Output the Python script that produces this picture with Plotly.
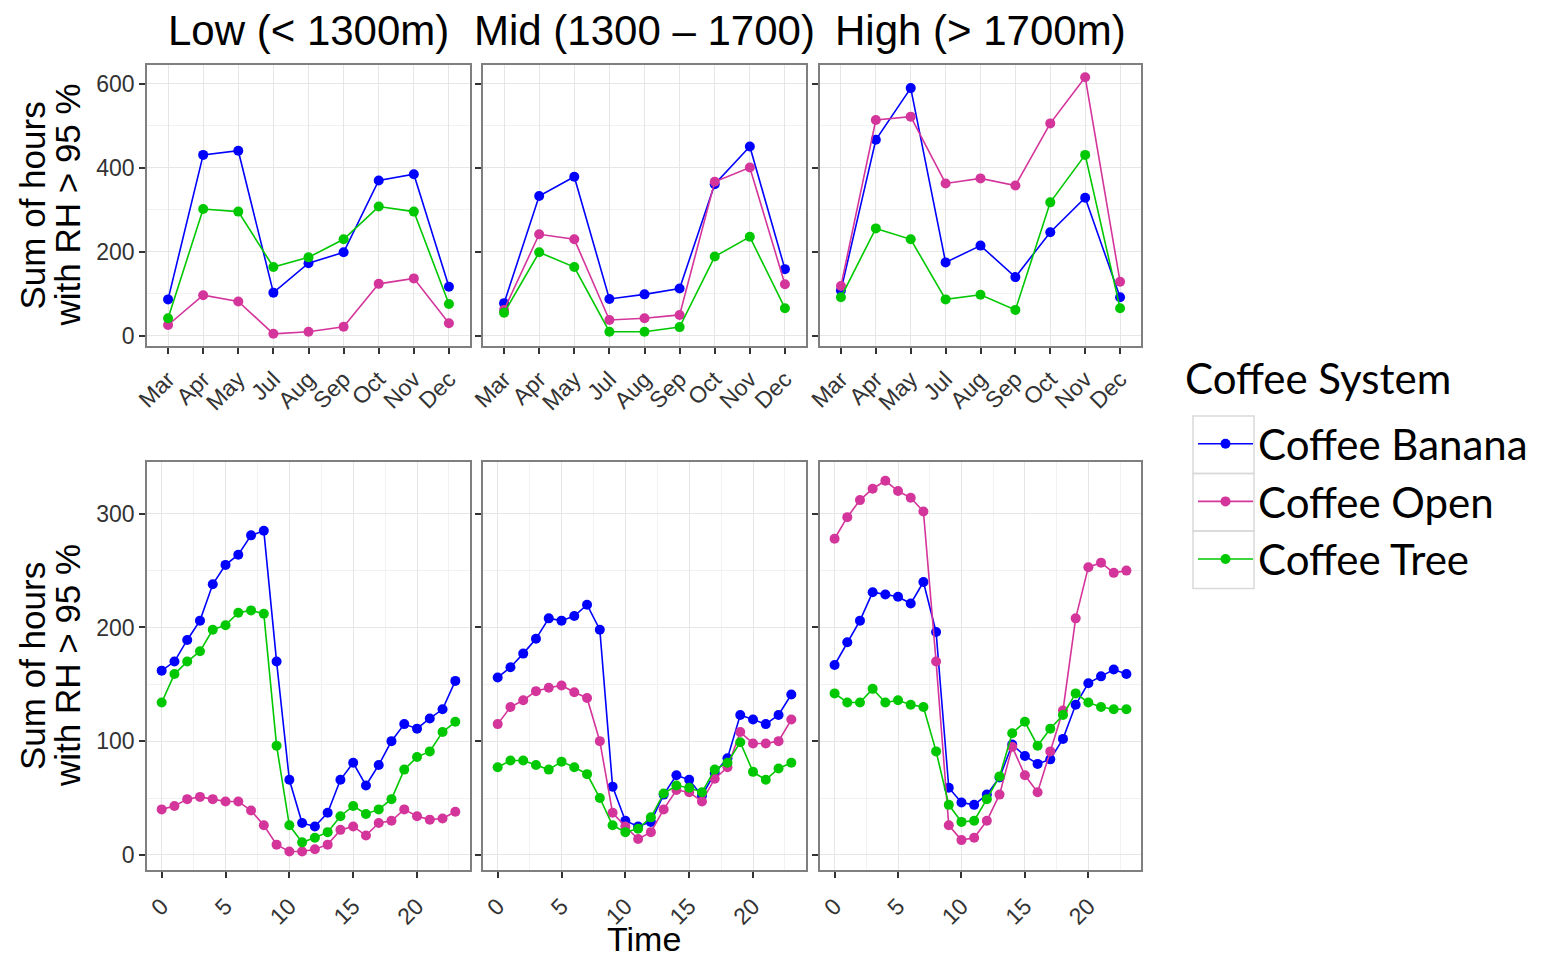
import plotly.graph_objects as go

# ---------------- data ----------------
months = ["Mar", "Apr", "May", "Jul", "Aug", "Sep", "Oct", "Nov", "Dec"]
hours = list(range(24))
elevations = ["Low (< 1300m)", "Mid (1300 – 1700)", "High (> 1700m)"]
systems = ["Coffee Banana", "Coffee Open", "Coffee Tree"]
colors = ["#0000FF", "#D4359B", "#00C800"]

monthly_low_banana = [87, 431, 441, 103, 173, 199, 370, 385, 117]
monthly_low_open = [26, 97, 82, 5, 10, 22, 124, 137, 30]
monthly_low_tree = [42, 302, 296, 164, 187, 230, 308, 296, 76]
monthly_mid_banana = [78, 333, 379, 88, 99, 113, 361, 451, 159]
monthly_mid_open = [62, 242, 230, 38, 42, 50, 367, 401, 123]
monthly_mid_tree = [55, 199, 164, 10, 10, 21, 189, 236, 66]
monthly_high_banana = [108, 467, 590, 175, 215, 140, 247, 329, 92]
monthly_high_open = [119, 514, 522, 363, 375, 358, 506, 616, 129]
monthly_high_tree = [92, 256, 230, 87, 98, 62, 318, 431, 66]

hourly_low_banana = [162, 170, 189, 206, 238, 255, 264, 281, 285, 170, 66, 28, 25, 37, 66, 81, 61, 79, 100, 115, 111, 120, 128, 153]
hourly_low_open = [40, 43, 49, 51, 49, 47, 47, 39, 26, 9, 3, 3, 5, 9, 22, 25, 17, 28, 30, 40, 34, 31, 32, 38]
hourly_low_tree = [134, 159, 170, 179, 198, 202, 213, 215, 212, 96, 26, 11, 15, 20, 34, 43, 36, 40, 49, 75, 86, 91, 108, 117]
hourly_mid_banana = [156, 165, 177, 190, 208, 206, 210, 220, 198, 60, 30, 25, 29, 53, 70, 66, 52, 72, 85, 123, 119, 115, 123, 141]
hourly_mid_open = [115, 130, 136, 144, 147, 149, 143, 138, 100, 37, 25, 14, 20, 40, 57, 55, 47, 67, 77, 108, 98, 98, 100, 119]
hourly_mid_tree = [77, 83, 83, 79, 75, 82, 77, 71, 50, 26, 20, 23, 33, 54, 61, 59, 55, 75, 81, 99, 73, 66, 76, 81]
hourly_high_banana = [167, 187, 206, 231, 229, 227, 221, 240, 196, 59, 46, 44, 53, 68, 97, 87, 80, 84, 102, 132, 151, 157, 163, 159]
hourly_high_open = [278, 297, 312, 322, 329, 320, 314, 302, 170, 26, 13, 15, 30, 53, 95, 70, 55, 91, 127, 208, 253, 257, 248, 250]
hourly_high_tree = [142, 134, 134, 146, 134, 136, 132, 130, 91, 44, 29, 30, 49, 69, 107, 117, 96, 111, 123, 142, 134, 130, 128, 128]

monthly = [
    [monthly_low_banana, monthly_low_open, monthly_low_tree],
    [monthly_mid_banana, monthly_mid_open, monthly_mid_tree],
    [monthly_high_banana, monthly_high_open, monthly_high_tree],
]
hourly = [
    [hourly_low_banana, hourly_low_open, hourly_low_tree],
    [hourly_mid_banana, hourly_mid_open, hourly_mid_tree],
    [hourly_high_banana, hourly_high_open, hourly_high_tree],
]

# ---------------- layout helpers ----------------
# page body has an 8px default margin; size the figure so the page fits the window
W, H = 1530, 953
OX, OY = 8, 8


def fx(px):
    return (px - OX) / W


def fy(py):
    return 1 - (py - OY) / H


col_px = [(147, 470), (483, 806), (820, 1141)]
top_py = (65, 346)
bot_py = (462, 870)

fig = go.Figure()

TICKFONT = dict(family="Liberation Sans, Arial, sans-serif", size=23, color="#333333")
grid = "#E6E6E6"
minor_grid = "#F2F2F2"

for c in range(3):
    xa = "x%d" % (c + 1) if c > 0 else "x"
    ya = "y%d" % (c + 1) if c > 0 else "y"
    for s in range(3):
        fig.add_trace(go.Scatter(
            x=months, y=monthly[c][s], mode="lines+markers",
            line=dict(color=colors[s], width=1.6),
            marker=dict(color=colors[s], size=10),
            name=systems[s], legendgroup=systems[s], showlegend=(c == 0),
            xaxis=xa, yaxis=ya))
    xb = "x%d" % (c + 4)
    yb = "y%d" % (c + 4)
    for s in range(3):
        fig.add_trace(go.Scatter(
            x=hours, y=hourly[c][s], mode="lines+markers",
            line=dict(color=colors[s], width=1.6),
            marker=dict(color=colors[s], size=10),
            name=systems[s], legendgroup=systems[s], showlegend=False,
            xaxis=xb, yaxis=yb))

common_axis = dict(
    showline=True, linecolor="#7F7F7F", linewidth=1.5, mirror=True,
    ticks="outside", ticklen=6, tickwidth=1.5, tickcolor="#333333",
    gridcolor=grid, gridwidth=1.3, zeroline=False, tickfont=TICKFONT,
    automargin=False,
)

layout = {}
for c in range(3):
    x0, x1 = col_px[c]
    kx = "xaxis" if c == 0 else "xaxis%d" % (c + 1)
    ky = "yaxis" if c == 0 else "yaxis%d" % (c + 1)
    layout[kx] = dict(common_axis, domain=[fx(x0), fx(x1)], type="category",
                      range=[-0.6, 8.6], tickangle=-45, ticklabelstandoff=3,
                      anchor="y" if c == 0 else "y%d" % (c + 1),
                      categoryorder="array", categoryarray=months)
    layout[ky] = dict(common_axis, domain=[fy(top_py[1]), fy(top_py[0])],
                      range=[-24, 645], tickvals=[0, 200, 400, 600],
                      showticklabels=(c == 0),
                      anchor="x" if c == 0 else "x%d" % (c + 1),
                      minor=dict(tickvals=[100, 300, 500], showgrid=True,
                                 gridcolor=minor_grid, gridwidth=1, ticks=""))
    kx = "xaxis%d" % (c + 4)
    ky = "yaxis%d" % (c + 4)
    layout[kx] = dict(common_axis, domain=[fx(x0), fx(x1)],
                      range=[-1.15, 24.15], tickvals=[0, 5, 10, 15, 20], tickangle=-45,
                      ticklabelstandoff=6,
                      anchor="y%d" % (c + 4),
                      minor=dict(tickvals=[2.5, 7.5, 12.5, 17.5, 22.5], showgrid=True,
                                 gridcolor=minor_grid, gridwidth=1, ticks=""))
    layout[ky] = dict(common_axis, domain=[fy(bot_py[1]), fy(bot_py[0])],
                      range=[-13.3, 345.5], tickvals=[0, 100, 200, 300],
                      showticklabels=(c == 0),
                      anchor="x%d" % (c + 4),
                      minor=dict(tickvals=[50, 150, 250], showgrid=True,
                                 gridcolor=minor_grid, gridwidth=1, ticks=""))

fig.update_layout(**layout)

annotations = []
TITLEFONT = dict(family="Liberation Sans, Arial, sans-serif", size=42, color="black")
for c in range(3):
    x0, x1 = col_px[c]
    annotations.append(dict(text=elevations[c], x=fx((x0 + x1) / 2), y=fy(30),
                            xref="paper", yref="paper", showarrow=False,
                            xanchor="center", yanchor="middle", font=TITLEFONT))
AXFONT = dict(family="Liberation Sans, Arial, sans-serif", size=35, color="black")
for (p0, p1) in [top_py, bot_py]:
    annotations.append(dict(text="Sum of hours", x=fx(32), y=fy((p0 + p1) / 2),
                            xref="paper", yref="paper", showarrow=False, textangle=-90,
                            xanchor="center", yanchor="middle", font=AXFONT))
    annotations.append(dict(text="with RH > 95 %", x=fx(67), y=fy((p0 + p1) / 2),
                            xref="paper", yref="paper", showarrow=False, textangle=-90,
                            xanchor="center", yanchor="middle", font=AXFONT))
annotations.append(dict(text="Time", x=fx(644), y=fy(960), xref="paper", yref="paper",
                        showarrow=False, xanchor="center", yanchor="bottom",
                        font=dict(AXFONT, size=34)))
# legend title
annotations.append(dict(text="Coffee System", x=fx(1183), y=fy(378), xref="paper", yref="paper",
                        showarrow=False, xanchor="left", yanchor="middle",
                        font=dict(family="Lato, Open Sans, sans-serif", size=42, color="black")))

# legend key boxes
shapes = []
step = 57.5
for i in range(3):
    shapes.append(dict(type="rect", xref="paper", yref="paper",
                       x0=fx(1193), x1=fx(1254), y0=fy(416 + step * i), y1=fy(416 + step * (i + 1)),
                       line=dict(color="#D9D9D9", width=1.5), fillcolor="rgba(0,0,0,0)"))

fig.update_layout(
    width=W, height=H, margin=dict(l=0, r=0, t=0, b=0, autoexpand=False),
    paper_bgcolor="white", plot_bgcolor="white",
    annotations=annotations, shapes=shapes,
    legend=dict(x=fx(1193), y=fy(410), xanchor="left", yanchor="top",
                font=dict(family="Lato, Open Sans, sans-serif", size=42, color="black"),
                itemwidth=55, tracegroupgap=0, bgcolor="rgba(0,0,0,0)"),
)

fig.write_html("out.html")
